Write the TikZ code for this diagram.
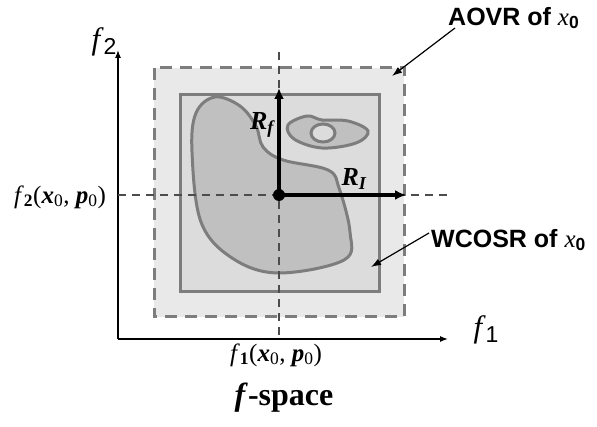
\documentclass[tikz,border=0pt]{standalone}
\usepackage{fontspec}
\setmainfont{Liberation Serif}
\setsansfont{Liberation Sans}
\usetikzlibrary{arrows.meta, positioning}
\definecolor{rimgray}{RGB}{125,125,125}
\definecolor{outerfill}{RGB}{233,233,233}
\definecolor{innerfill}{RGB}{220,220,220}
\definecolor{blobfill}{RGB}{192,192,192}

\newcommand{\fx}[1]{\textit{f}\textsubscript{\textbf{#1}}(\textbf{\textit{x}}\textsubscript{0}, \textbf{\textit{p}}\textsubscript{0})}
\newcommand{\fax}[1]{\textit{f}\raisebox{-5pt}{\sffamily\fontsize{23}{23}\selectfont #1}}

\begin{document}
\begin{tikzpicture}[x=1pt, y=-1pt,
  axis/.style={draw=black, line width=1.3pt, -{Latex[length=8pt,width=6pt]}},
  guide/.style={draw=black!70, line width=1.6pt, dash pattern=on 8pt off 6pt},
  region/.style={draw=rimgray, line width=3pt},
  radius/.style={draw=black, line width=3.8pt, -{Latex[length=11pt,width=10pt]}},
  pointer/.style={draw=black, line width=1.2pt, -{Latex[length=10pt,width=7pt]}},
  tag/.style={font=\sffamily\bfseries\fontsize{25}{28}\selectfont, inner sep=1pt},
  axlabel/.style={font=\fontsize{31}{33}\selectfont, inner sep=0pt},
  vallabel/.style={font=\fontsize{25}{27}\selectfont, inner sep=0pt},
  rlabel/.style={font=\bfseries\itshape\fontsize{26}{28}\selectfont, inner sep=0pt},
  dot/.style={circle, fill=black, minimum size=12pt, inner sep=0pt}
]
\useasboundingbox (0,0) rectangle (597,427);

% regions
\draw[region, fill=outerfill, dash pattern=on 12pt off 8pt] (154,68) rectangle (404,317);
\draw[region, fill=innerfill] (180,95) rectangle (379,292);
\draw[region, fill=blobfill] plot[smooth cycle, tension=0.6] coordinates {
  (215,97) (196,113) (192,152) (201,222) (232,258) (278,273)
  (344,260) (350,232) (339,188) (328,170) (283,160) (263,147)
  (256,126) (240,106)};
\draw[region, fill=blobfill] plot[smooth cycle, tension=0.6] coordinates {
  (288,125) (307,116) (322,120) (348,121) (368,131) (356,143)
  (322,148) (294,139)};
\draw[region, fill=innerfill] (323,133) ellipse (12pt and 9pt);

% axes
\coordinate (orig) at (118,339);
\coordinate (ytip) at (118,50);
\coordinate (xtip) at (448,339);
\draw[axis] (orig) -- (ytip);
\draw[axis] (orig) -- (xtip);
\node[axlabel] (f2) at (104,42) {\fax{2}};
\node[axlabel] (f1) at (486,330) {\fax{1}};

% nominal point and guides
\node[dot] (p0) at (279,195) {};
\coordinate (vtop) at (279,52);
\coordinate (vbot) at (279,339);
\coordinate (hleft) at (118,195);
\coordinate (hright) at (447,195);
\draw[guide] (vtop) -- (p0) -- (vbot);
\draw[guide] (hleft) -- (p0) -- (hright);
\node[vallabel] (v2) at (60,197) {\fx{2}};
\node[vallabel] (v1) at (276,355) {\fx{1}};

% radii
\coordinate (rtop) at (279,88);
\coordinate (rright) at (406,195);
\draw[radius] (p0.center) -- (rtop);
\draw[radius] (p0.center) -- (rright);
\node[rlabel] (rf) at (262,125) {R\textsubscript{\textit{f}}};
\node[rlabel] (ri) at (354,179) {R\textsubscript{\textit{I}}};

% region names
\node[tag, anchor=west] (aovr) at (447,18) {AOVR of \textit{\rmfamily\mdseries x}\textsubscript{0}};
\node[tag, anchor=west] (wcosr) at (430,240) {WCOSR of \textit{\rmfamily\mdseries x}\textsubscript{0}};
\coordinate (atip) at (392,76);
\coordinate (wtip) at (371,267);
\draw[pointer] (aovr.west) ++(8,10) -- (atip);
\draw[pointer] (wcosr.west) ++(-1,-7) -- (wtip);

\node[font=\bfseries\fontsize{32}{34}\selectfont] (title) at (284,398) {\textit{f}-space};
\end{tikzpicture}
\end{document}
